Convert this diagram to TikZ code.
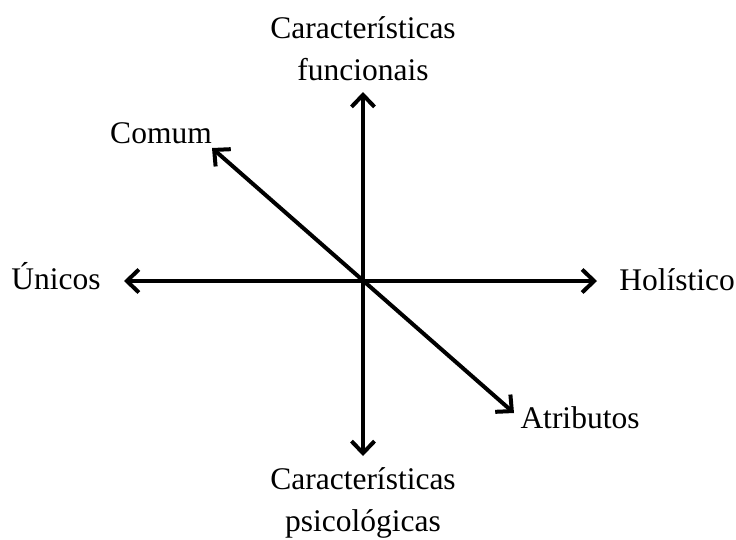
\documentclass[tikz,border=0pt]{standalone}
\usepackage{fontspec}
\setmainfont{Liberation Serif}
\usetikzlibrary{arrows.meta, positioning, calc}

\begin{document}
\begin{tikzpicture}[x=1pt, y=-1pt,
  axis/.style={line width=4pt, {Straight Barb[length=12pt,width=23pt,line width=4pt]}-{Straight Barb[length=12pt,width=23pt,line width=4pt]}},
  lbl/.style={font=\fontsize{31.5}{42}\selectfont, align=center, inner sep=0pt, anchor=base}]
\useasboundingbox (0,0) rectangle (736,539);
% centre and arrow ends
\coordinate (o) at (363,281);
\coordinate (top) at (363,92);
\coordinate (bot) at (363,456);
\coordinate (left) at (124,281);
\coordinate (right) at (597,281);
\coordinate (ul) at (212,148);
\coordinate (lr) at (514,413);

% axes
\draw[axis] (top) -- (bot);
\draw[axis] (left) -- (right);
\draw[axis] (ul) -- (lr);

% labels (base = last line)
\node[lbl] (func) at (363,80) {Características\\funcionais};
\node[lbl] (psic) at (363,531) {Características\\psicológicas};
\node[lbl] (comum) at (161,143) {Comum};
\node[lbl] (unicos) at (56,289) {Únicos};
\node[lbl] (holis) at (677,290) {Holístico};
\node[lbl] (atrib) at (580,428) {Atributos};
\end{tikzpicture}
\end{document}
